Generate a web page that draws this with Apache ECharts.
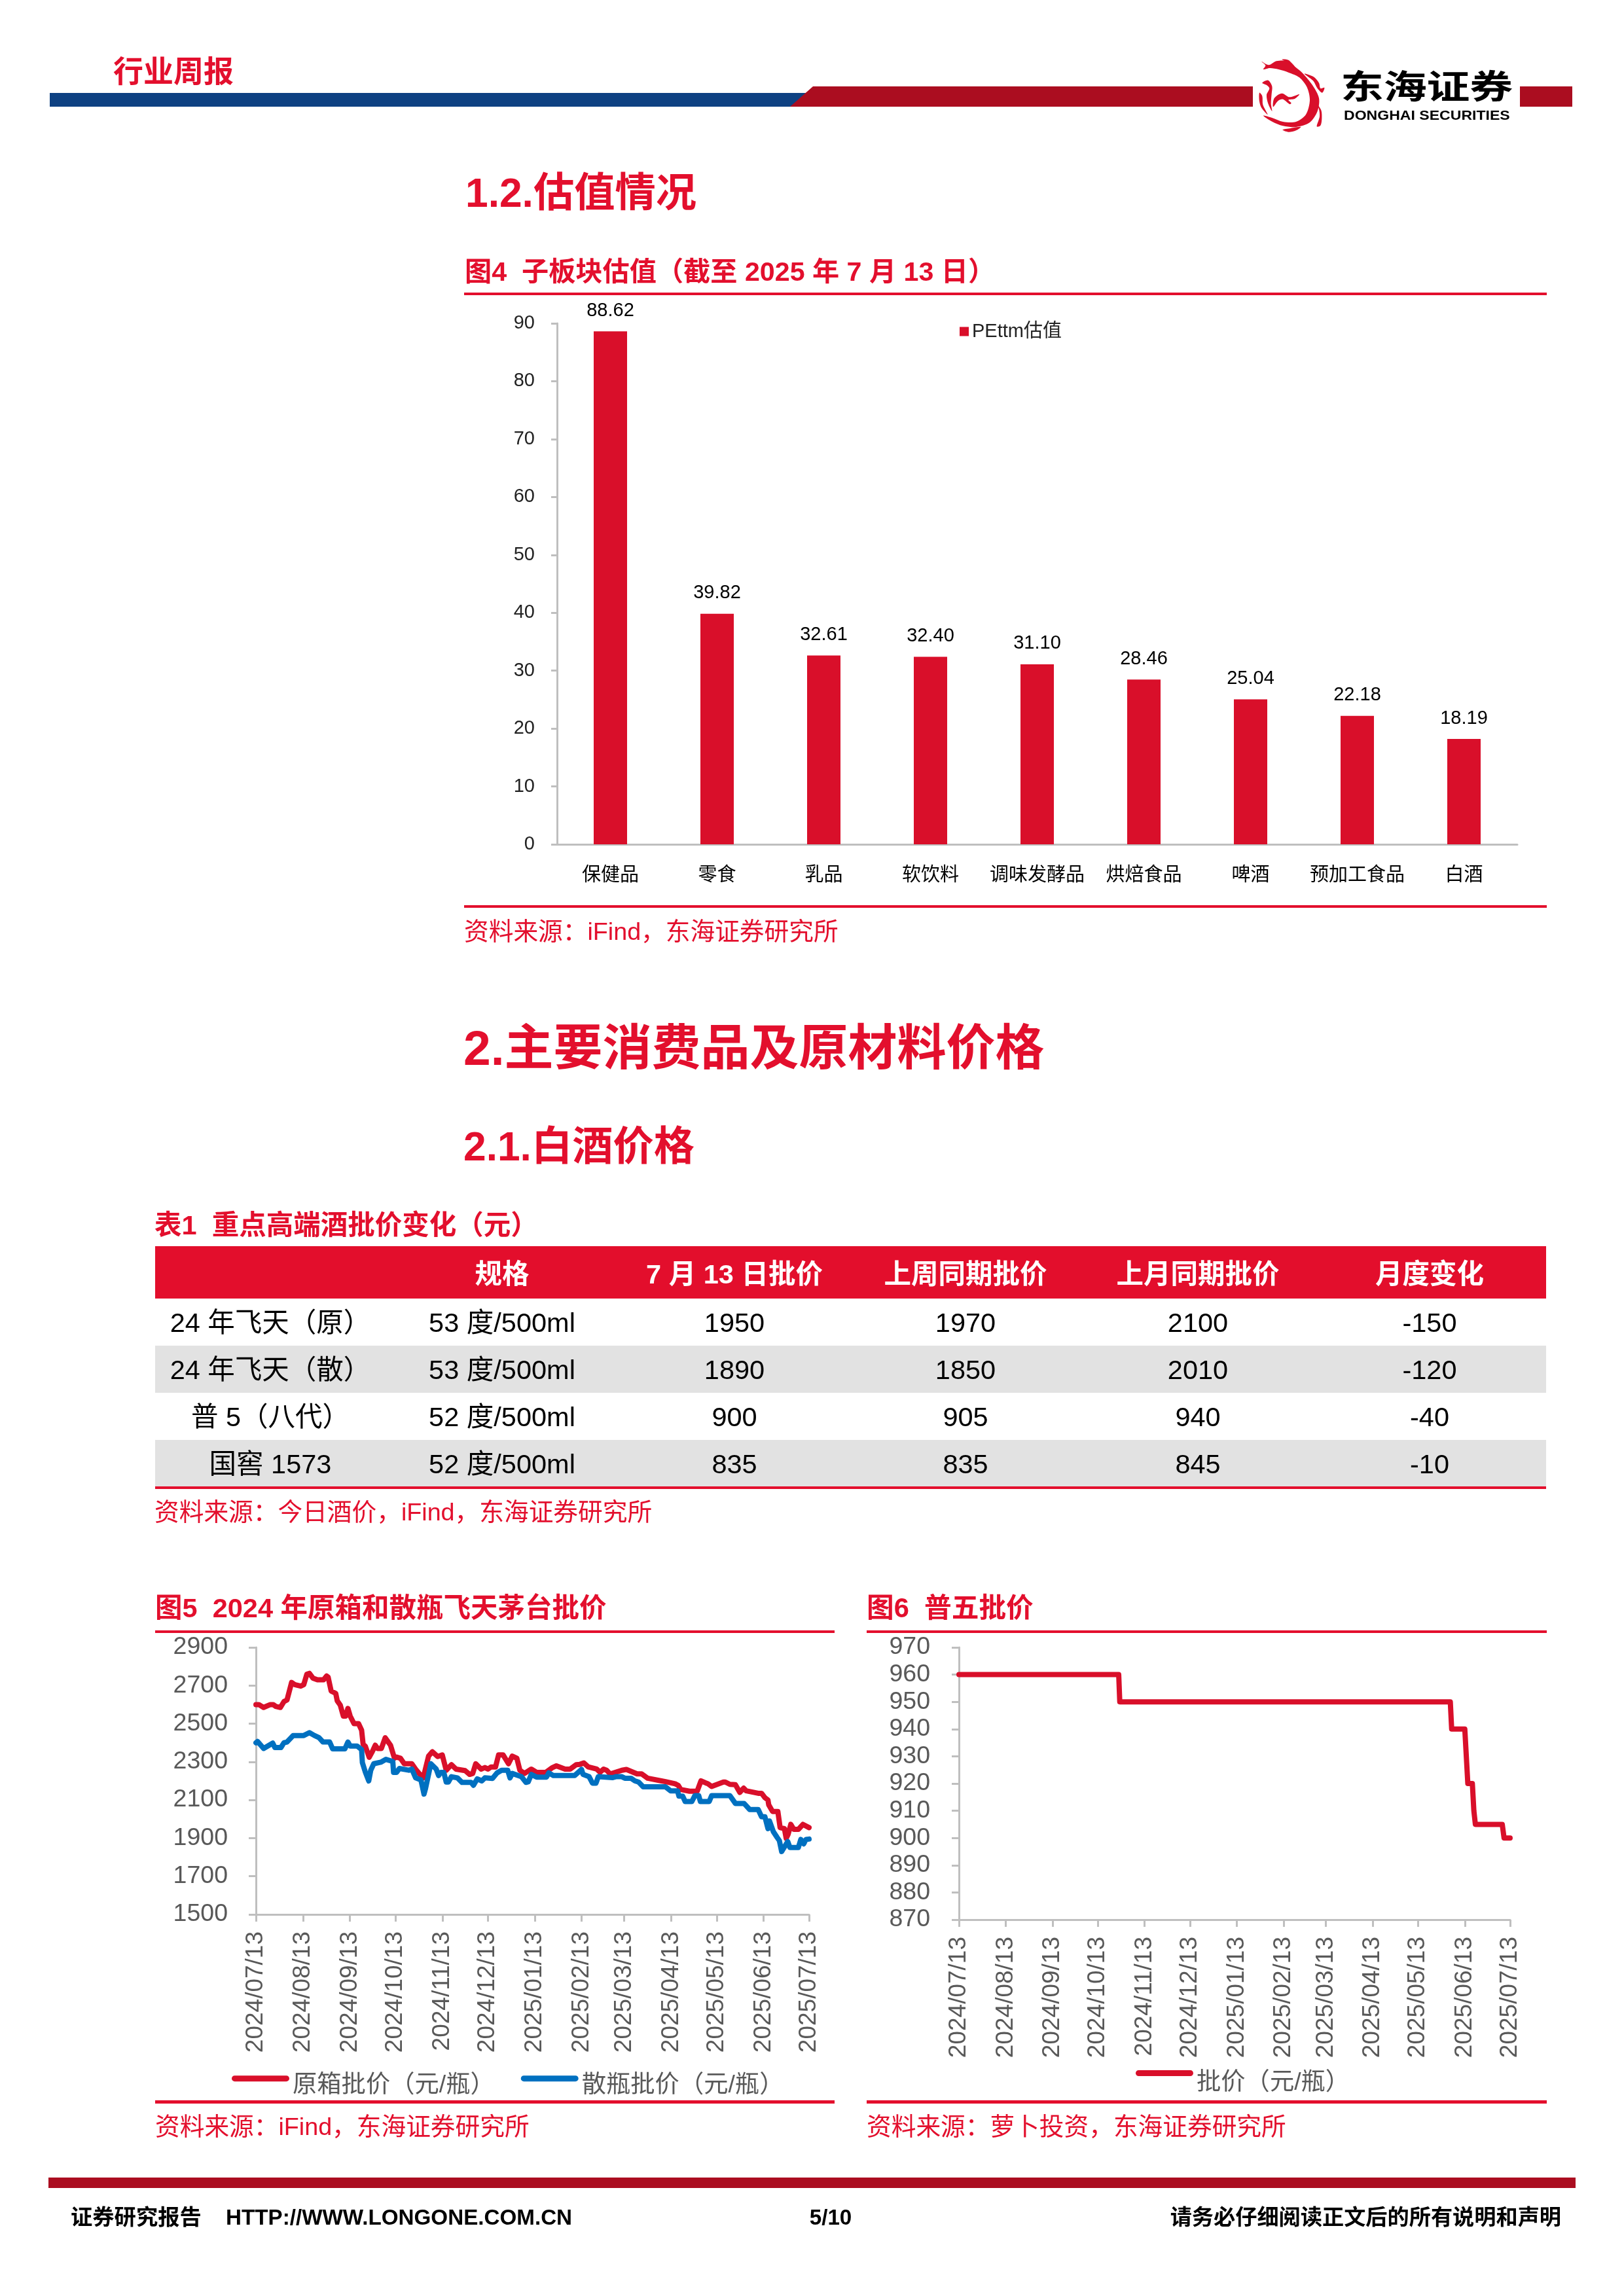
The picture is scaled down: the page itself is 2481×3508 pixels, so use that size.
<!DOCTYPE html>
<html><head><meta charset="utf-8">
<style>html,body{margin:0;padding:0;background:#fff}#c{width:2481px;height:3508px}</style>
<script src="https://cdn.jsdelivr.net/npm/echarts@6/dist/echarts.min.js"></script>
</head><body><div id="c"></div>
<script>
// ---- Figure 4
const sectorNames = ['保健品','零食','乳品','软饮料','调味发酵品','烘焙食品','啤酒','预加工食品','白酒'];
const sectorPE = [88.62,39.82,32.61,32.40,31.10,28.46,25.04,22.18,18.19];
// ---- Table 1
const tableHeader = ['','规格','7 月 13 日批价','上周同期批价','上月同期批价','月度变化'];
const tableRows = [
 ['24 年飞天（原）','53 度/500ml','1950','1970','2100','-150'],
 ['24 年飞天（散）','53 度/500ml','1890','1850','2010','-120'],
 ['普 5（八代）','52 度/500ml','900','905','940','-40'],
 ['国窖 1573','52 度/500ml','835','835','845','-10']
];
// ---- Figure 5 / 6 shared month ticks (days since 2024/07/13)
const tickDays = [0,31,62,92,123,153,184,215,243,274,304,335,365];
const tickLabels = ['2024/07/13','2024/08/13','2024/09/13','2024/10/13','2024/11/13','2024/12/13','2025/01/13','2025/02/13','2025/03/13','2025/04/13','2025/05/13','2025/06/13','2025/07/13'];
const priceTicks = [1500,1700,1900,2100,2300,2500,2700,2900];
// ---- Figure 5: 原箱
const boxDays = [0,1.5,4.6,9,11,12.5,15.6,18,20,23,25,29,31,33,34.7,37,40,44,46,47,49,52,53,55,57,58.5,60,61.5,64,67,69,70,71.5,74,76,78,79.5,82,84.5,86.5,88,90.6,92,94.5,97,100,102,105,108,109.5,113,115.5,119,122,124.6,128,131,137,140,142,144,147.5,150,152,154,157,159,162,165.5,168,171,173,176,180.5,184,190,194,197,202.7,206,210,212.5,215,218,223.5,225.7,228,230,232,233.6,240,243,250,253,257,266,268.7,275,277,278.7,284.5,289.5,292,295,296.6,299,306.7,308,311,314.6,317.5,320,321.7,329.6,331.8,334,336,336.5,339,342.5,344,346.8,348,349.3,351,353,356,359,365];
const boxPrice = [2600,2600,2585,2600,2600,2591,2585,2616,2625,2716,2705,2697,2705,2759,2764,2739,2730,2730,2750,2744,2671,2659,2620,2597,2540,2540,2580,2540,2500,2500,2466,2392,2381,2324,2353,2387,2370,2370,2426,2404,2387,2319,2325,2319,2290,2290,2290,2256,2228,2216,2330,2353,2328,2336,2256,2285,2262,2254,2234,2239,2290,2262,2270,2262,2273,2273,2336,2336,2290,2330,2319,2256,2239,2262,2245,2245,2268,2279,2262,2262,2285,2287,2294,2273,2262,2245,2262,2256,2239,2239,2256,2260,2237,2237,2214,2200,2196,2185,2177,2155,2146,2146,2200,2190,2185,2171,2194,2194,2182,2180,2140,2162,2148,2135,2135,2112,2100,2075,2040,2040,1955,1950,1899,1921,1972,1946,1946,1972,1955,1955];
// ---- Figure 5: 散瓶
const looseDays = [0,0.6,4.6,10.6,12,16,18,20,24,31,34.7,38,41,43.6,48,50,58,60,61.5,66,69,69.5,71.5,73.7,75,77,81.6,85,89.5,90,92,93.8,100,102,104.5,108,110,111,114.5,118,119.6,121,123,124.6,126,128,132,135,141,142.5,145,148,150,155,158,161,165,166.5,168,174,177,178.5,180.5,184,190.5,192,195,209,213.5,214.5,218.5,220.7,223,224.5,234,236,240,242,246,248.6,251,254,268.7,272,276.6,277.5,280,281.6,286,288,290.5,291.6,297.4,299,311,314.6,320.3,324,329.6,331.8,334,336,337,339.6,342,343.5,345,349,350.4,356,357.6,359.5,361,365];
const loosePrice = [2400,2407,2370,2398,2375,2375,2400,2404,2438,2438,2453,2438,2427,2404,2404,2368,2368,2404,2383,2383,2364,2296,2245,2200,2256,2290,2298,2313,2302,2245,2245,2265,2256,2262,2216,2205,2131,2160,2290,2262,2228,2245,2245,2194,2194,2222,2216,2192,2192,2177,2211,2200,2216,2213,2242,2256,2256,2216,2239,2222,2192,2195,2234,2220,2220,2242,2228,2228,2260,2234,2222,2188,2188,2222,2217,2222,2222,2214,2214,2200,2194,2169,2169,2148,2148,2120,2120,2092,2092,2123,2123,2092,2092,2123,2123,2082,2082,2050,2050,2012,2012,1950,1990,1933,1904,1887,1830,1882,1851,1851,1893,1870,1893,1895];
// ---- Figure 6: 普五
const puwuDays = [0,105.8,106.5,325.4,326.3,335,337,340,341,342,359.8,361,365];
const puwuPrice = [960,960,950,950,940,940,920,920,910,905,905,900,900];

const RED='#E30F2D', BAR='#D90F2A', BLUE='#0070C0', DARKRED='#AB0D20', NAVY='#0E4182', AXIS='#BFBFBF', GREY='#595959';
const FF='"Liberation Sans","Noto Sans CJK SC",sans-serif';
const pair=(a,b)=>a.map((d,i)=>[d,b[i]]);
// readings of figure 5 were taken on a slightly different pixel-to-day ruler
const ruler=d=>d===0?0:Math.min(365,d*1.0043+0.43);
const g=[];
const rect=(x,y,w,h,fill)=>g.push({type:'rect',silent:true,shape:{x,y,width:w,height:h},style:{fill}});
const txt=(x,y,text,size,fill,weight,align,extra)=>g.push(Object.assign({type:'text',silent:true,x,y,style:{text,fill,fontSize:size,fontWeight:weight||'normal',fontFamily:FF,align:align||'left',verticalAlign:'middle'}},extra||{}));

// header
rect(76,142,1160,21,NAVY);
g.push({type:'polygon',silent:true,shape:{points:[[1242,132],[1914,132],[1914,163],[1207,163]]},style:{fill:DARKRED}});
rect(2322,132,80,31,DARKRED);
txt(173,112,'行业周报',46,RED,'bold');
// logo
const logoPoly=(points)=>({type:'polygon',silent:true,shape:{points,smooth:0.3},style:{fill:BAR}});
g.push({type:'group',silent:true,x:1900,y:80,scaleX:1/3,scaleY:1/3,children:[
 logoPoly([[82,42],[115,58],[150,40],[200,40],[240,70],[270,95],[315,150],[345,210],[338,270],[302,322],[240,342],[180,337],[130,317],[90,290],[130,300],[180,318],[240,318],[285,285],[303,220],[290,160],[255,115],[205,92],[160,78],[120,72],[90,78],[100,60]]),
 logoPoly([[278,98],[320,112],[345,140],[352,165],[370,162],[360,185],[338,165],[318,130]]),
 logoPoly([[332,232],[355,265],[358,305],[352,335],[335,340],[348,295],[345,260]]),
 logoPoly([[175,32],[205,35],[238,70],[215,55],[195,43]]),
 logoPoly([[85,140],[112,128],[130,155],[128,190],[125,235],[130,270],[112,235],[105,195],[118,165],[105,150]]),
 logoPoly([[72,185],[85,200],[88,240],[110,285],[82,255],[72,225]]),
 logoPoly([[135,250],[140,210],[175,188],[210,205],[255,192],[235,212],[205,218],[218,232],[212,238],[180,215],[158,222]]),
 logoPoly([[178,355],[215,348],[262,342],[240,358],[205,365]])
]});
[0,1,2,3].forEach(i=>txt(2081+i*65.75,137,'东海证券'[i],66,'#000','bold','center',{scaleY:0.78}));
txt(2053,177,'DONGHAI SECURITIES',20.5,'#000','bold','left',{scaleX:1.125});

// section headings
txt(711,299,'1.2.估值情况',62.3,RED,'bold');
txt(710,418,'图4  子板块估值（截至 2025 年 7 月 13 日）',41.2,RED,'bold');
rect(709,447,1654,4,RED);
rect(709,1383,1654,4,RED);
txt(709,1426,'资料来源：iFind，东海证券研究所',37.7,RED);
txt(708,1606,'2.主要消费品及原材料价格',75,RED,'bold');
txt(708,1756,'2.1.白酒价格',62.3,RED,'bold');

// table
txt(236,1875,'表1  重点高端酒批价变化（元）',41.5,RED,'bold');
rect(237,1904,2125,80,'#E30E2C');
const colX=[413,767,1122,1475,1830,2184];
tableHeader.forEach((t,i)=>{ if(t) txt(colX[i],1950,t,41.5,'#fff','bold','center'); });
const rowY=[1984,2056,2128,2200,2271];
const rowFill=[null,'#E2E2E2',null,'#E2E2E2'];
tableRows.forEach((r,i)=>{
  if(rowFill[i]) rect(237,rowY[i],2125,rowY[i+1]-rowY[i],rowFill[i]);
  r.forEach((t,j)=>txt(colX[j],rowY[i]+40,t,41.5,'#000','normal','center'));
});
rect(237,2271,2125,4,RED);
txt(236,2313,'资料来源：今日酒价，iFind，东海证券研究所',37.7,RED);

// fig 5/6 titles
txt(237,2460,'图5  2024 年原箱和散瓶飞天茅台批价',41.5,RED,'bold');
rect(237,2491,1038,4,RED);
txt(1324,2460,'图6  普五批价',41.7,RED,'bold');
rect(1324,2491,1039,4,RED);
rect(237,3209,1038,5,RED);
rect(1324,3209,1039,5,RED);
txt(237,3252,'资料来源：iFind，东海证券研究所',37.7,RED);
txt(1324,3252,'资料来源：萝卜投资，东海证券研究所',37.7,RED);

// footer
rect(74,3327,2333,16,DARKRED);
txt(108,3390,'证券研究报告',33.3,'#000','bold');
txt(345,3390,'HTTP://WWW.LONGONE.COM.CN',33.2,'#000','bold');
txt(1269,3390,'5/10',33.2,'#000','bold','center');
txt(2385,3390,'请务必仔细阅读正文后的所有说明和声明',33.2,'#000','bold','right');

const axisLine={lineStyle:{color:AXIS,width:3}};
const dateAxis=(i)=>({type:'value',gridIndex:i,min:0,max:365,splitLine:{show:false},axisLine:Object.assign({onZero:false},axisLine),
  axisTick:{length:11,lineStyle:{color:AXIS,width:3},customValues:tickDays},
  axisLabel:{rotate:90,margin:26,fontSize:37,color:GREY,fontFamily:FF,padding:[12,0,0,0],customValues:tickDays,formatter:v=>tickLabels[tickDays.indexOf(v)]}});
// legend key: a rounded bar sitting in the upper part of a taller icon box
const legendKey=(h)=>`path://M4.5 0H83.5A4.5 4.5 0 0 1 83.5 9H4.5A4.5 4.5 0 0 1 4.5 0Z M0 ${h}h.01v.01H0Z`;

const option={
 animation:false,backgroundColor:'#fff',textStyle:{fontFamily:FF},
 grid:[
  {left:851,top:494,width:1467,height:796},
  {left:391,top:2517,width:845,height:408},
  {left:1465,top:2517,width:842,height:416}
 ],
 xAxis:[
  {type:'category',gridIndex:0,data:sectorNames,axisLine,axisTick:{length:9,lineStyle:{color:AXIS,width:3}},
   axisLabel:{margin:33,fontSize:29,color:'#000',fontFamily:FF,interval:0}},
  dateAxis(1),dateAxis(2)
 ],
 yAxis:[
  {type:'value',gridIndex:0,min:0,max:90,interval:10,splitLine:{show:false},axisLine:Object.assign({show:true},axisLine),
   axisTick:{show:true,length:9,lineStyle:{color:AXIS,width:3}},axisLabel:{margin:34,fontSize:29,color:'#222',fontFamily:FF}},
  {type:'value',gridIndex:1,min:1500,max:2900,splitLine:{show:false},axisLine:Object.assign({show:true},axisLine),
   axisTick:{show:true,length:11,lineStyle:{color:AXIS,width:3},customValues:priceTicks},axisLabel:{margin:43,fontSize:37.5,color:GREY,fontFamily:FF,customValues:priceTicks,formatter:v=>String(v)}},
  {type:'value',gridIndex:2,min:870,max:970,interval:10,splitLine:{show:false},axisLine:Object.assign({show:true},axisLine),
   axisTick:{show:true,length:11,lineStyle:{color:AXIS,width:3}},axisLabel:{margin:44,fontSize:37.5,color:GREY,fontFamily:FF}}
 ],
 legend:[
  {data:['PEttm估值'],left:1466,top:492,icon:'rect',itemWidth:14,itemHeight:14,itemGap:10,padding:0,textStyle:{fontSize:29,color:'#222',fontFamily:FF}},
  {data:['原箱批价（元/瓶）','散瓶批价（元/瓶）'],left:354,top:3168,icon:legendKey(31),itemWidth:88,itemHeight:31,itemGap:40,padding:0,textStyle:{fontSize:37.3,color:GREY,fontFamily:FF}},
  {data:['批价（元/瓶）'],left:1735,top:3163,icon:legendKey(39),itemWidth:88,itemHeight:39,itemGap:40,padding:0,textStyle:{fontSize:37.3,color:GREY,fontFamily:FF}}
 ],
 series:[
  {name:'PEttm估值',type:'bar',xAxisIndex:0,yAxisIndex:0,barWidth:51,data:sectorPE,itemStyle:{color:BAR},
   label:{show:true,position:'top',distance:17,fontSize:29,color:'#000',fontFamily:FF,formatter:p=>p.value.toFixed(2)}},
  {name:'原箱批价（元/瓶）',type:'line',xAxisIndex:1,yAxisIndex:1,showSymbol:false,symbol:'none',data:pair(boxDays.map(ruler),boxPrice),lineStyle:{color:BAR,width:8,cap:'round',join:'round'},itemStyle:{color:BAR}},
  {name:'散瓶批价（元/瓶）',type:'line',xAxisIndex:1,yAxisIndex:1,showSymbol:false,symbol:'none',data:pair(looseDays.map(ruler),loosePrice),lineStyle:{color:BLUE,width:8,cap:'round',join:'round'},itemStyle:{color:BLUE}},
  {name:'批价（元/瓶）',type:'line',xAxisIndex:2,yAxisIndex:2,showSymbol:false,symbol:'none',data:pair(puwuDays,puwuPrice),lineStyle:{color:BAR,width:8,cap:'round',join:'round'},itemStyle:{color:BAR}}
 ],
 graphic:{elements:g}
};
const chart=echarts.init(document.getElementById('c'),null,{renderer:'canvas',width:2481,height:3508});
chart.setOption(option);
</script></body></html>
